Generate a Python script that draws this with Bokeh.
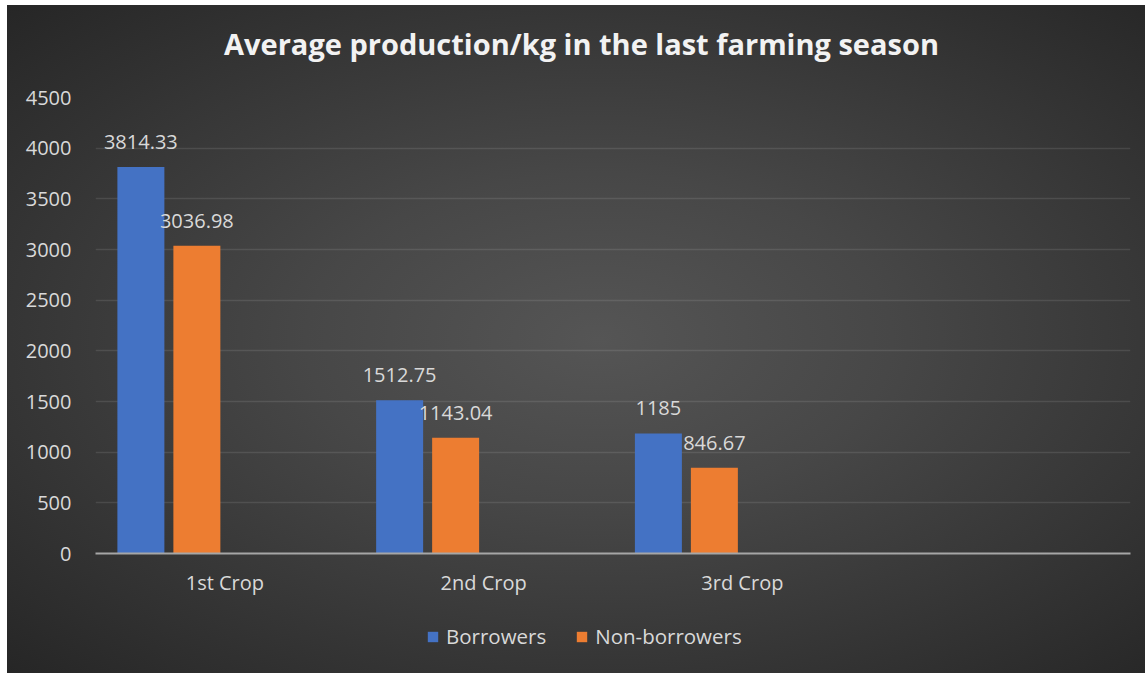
from bokeh.plotting import figure
from bokeh.models import FactorRange, Range1d, ColumnDataSource, LabelSet, Legend, SingleIntervalTicker, Label
from bokeh.layouts import column
from bokeh.core.properties import value
from bokeh.transform import dodge
from bokeh.embed import file_html
from bokeh.resources import INLINE

title_text = "Average production/kg in the last farming season"
categories = ["1st Crop", "2nd Crop", "3rd Crop"]
borrowers = [3814.33, 1512.75, 1185]
non_borrowers = [3036.98, 1143.04, 846.67]
series_names = ["Borrowers", "Non-borrowers"]
colors = ["#4472c4", "#ed7d31"]

src = ColumnDataSource(dict(
    cat=categories,
    b=borrowers,
    n=non_borrowers,
    bl=[f"{v:g}" for v in borrowers],
    nl=[f"{v:g}" for v in non_borrowers],
))

FONT = "Open Sans"
TXT = "#d9d9d9"


def strip(h):
    s = figure(width=1138, height=h, x_range=Range1d(0, 1), y_range=Range1d(0, 1),
               output_backend="svg", toolbar_location=None,
               min_border=0, min_border_left=0, min_border_right=0, min_border_top=0, min_border_bottom=0)
    s.axis.visible = False
    s.grid.visible = False
    s.background_fill_alpha = 0
    s.border_fill_alpha = 0
    s.outline_line_color = None
    return s


# title strip
t = strip(80)
t.add_layout(Label(x=486, y=42, x_units="screen", y_units="screen", text=title_text,
                   text_align="center", text_baseline="middle", text_font=FONT,
                   text_font_size="29px", text_font_style="bold", text_color="#f2f2f2"))

p = figure(
    x_range=FactorRange(factors=categories + [" "], range_padding=0),
    y_range=Range1d(0, 4500),
    width=1138, height=525,
    output_backend="svg", toolbar_location=None,
    min_border_left=88, min_border_right=15, min_border_top=12, min_border_bottom=57,
)
p.background_fill_alpha = 0
p.border_fill_alpha = 0
p.outline_line_color = None

w = 0.1816
step = 0.2164
r1 = p.vbar(x=dodge("cat", -1.5 * step, range=p.x_range), top="b", width=w, source=src,
            fill_color=colors[0], line_color=None)
r2 = p.vbar(x=dodge("cat", -0.5 * step, range=p.x_range), top="n", width=w, source=src,
            fill_color=colors[1], line_color=None)

for col, lab, off in (("b", "bl", -1.5 * step), ("n", "nl", -0.5 * step)):
    p.add_layout(LabelSet(x=dodge("cat", off, range=p.x_range), y=col, text=lab, source=src,
                          text_align="center", text_baseline="alphabetic", y_offset=18,
                          text_font=value(FONT), text_font_size="20px", text_color=TXT))

p.yaxis.ticker = SingleIntervalTicker(interval=500)
p.yaxis.axis_line_color = None
p.yaxis.major_tick_line_color = None
p.yaxis.minor_tick_line_color = None
p.yaxis.major_label_standoff = 18
p.yaxis.major_label_text_font = FONT
p.yaxis.major_label_text_font_size = "20px"
p.yaxis.major_label_text_color = TXT

p.xaxis.axis_line_color = "#a6a6a6"
p.xaxis.axis_line_width = 2
p.xaxis.major_tick_line_color = None
p.xaxis.minor_tick_line_color = None
p.xaxis.major_label_standoff = 9
p.xaxis.major_label_text_font = FONT
p.xaxis.major_label_text_font_size = "20px"
p.xaxis.major_label_text_color = TXT

p.xgrid.grid_line_color = None
p.ygrid.grid_line_color = "#ffffff"
p.ygrid.grid_line_alpha = 0.1
p.ygrid.grid_line_width = 1.5

# legend strip (dummy renderers sit outside the visible range; only their legend swatches show)
q = strip(63)
hidden = ColumnDataSource(dict(x=[-10], top=[-10]))
l1 = q.vbar(x="x", top="top", width=0.1, source=hidden, fill_color=colors[0], line_color=None)
l2 = q.vbar(x="x", top="top", width=0.1, source=hidden, fill_color=colors[1], line_color=None)
legend = Legend(items=[(series_names[0], [l1]), (series_names[1], [l2])],
                orientation="horizontal", location=(326, 18),
                background_fill_alpha=0, border_line_alpha=0,
                label_text_font=FONT, label_text_font_size="20.5px", label_text_color=TXT,
                glyph_width=13, glyph_height=13, spacing=29, label_standoff=7,
                margin=0, padding=5)
q.add_layout(legend, "center")

root = column(t, p, q, spacing=0, margin=(5, 0, 0, 7),
              styles={"background-image": "radial-gradient(ellipse at 52% 50%, #555555 0%, #474747 35%, #262626 100%)"})

open("out.html", "w").write(file_html(root, INLINE))
